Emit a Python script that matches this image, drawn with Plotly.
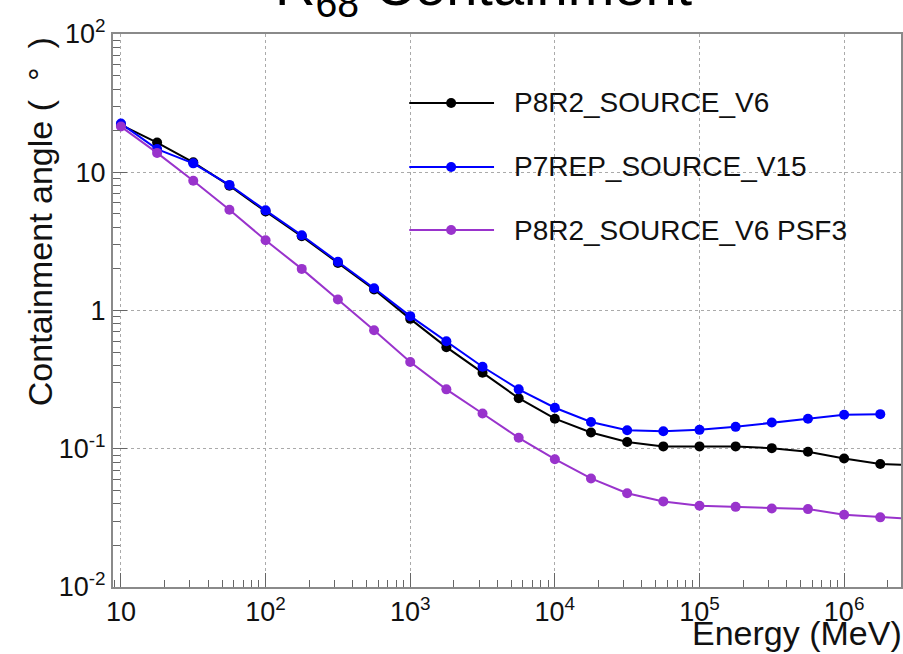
import plotly.graph_objects as go

# ---------------- data ----------------
energy_mev = [10, 17.78, 31.62, 56.23, 100, 177.8, 316.2, 562.3, 1000, 1778, 3162, 5623,
              1.0e4, 1.778e4, 3.162e4, 5.623e4, 1.0e5, 1.778e5, 3.162e5, 5.623e5,
              1.0e6, 1.778e6, 3.162e6]

p8r2_source_v6 = [22.0, 16.4, 11.8, 8.0, 5.2, 3.44, 2.21, 1.42, 0.87, 0.543, 0.355, 0.232,
                  0.165, 0.131, 0.112, 0.104, 0.104, 0.104, 0.101, 0.095, 0.085, 0.0775, 0.076]

p7rep_source_v15 = [22.5, 14.7, 11.6, 8.1, 5.3, 3.5, 2.25, 1.45, 0.91, 0.60, 0.392, 0.269,
                    0.198, 0.156, 0.136, 0.134, 0.137, 0.144, 0.155, 0.165, 0.176, 0.178]

p8r2_source_v6_psf3 = [21.4, 13.8, 8.68, 5.36, 3.22, 2.0, 1.2, 0.72, 0.424, 0.269, 0.180, 0.120,
                       0.084, 0.061, 0.0477, 0.0416, 0.0387, 0.038, 0.037, 0.0366, 0.0333, 0.0319, 0.031]

series_names = ["P8R2_SOURCE_V6", "P7REP_SOURCE_V15", "P8R2_SOURCE_V6 PSF3"]
series_colors = ["#000000", "#0000ff", "#9933cc"]

x_tickvals = [10, 100, 1e3, 1e4, 1e5, 1e6]
x_ticktext = ["10", "10<sup>2</sup>", "10<sup>3</sup>", "10<sup>4</sup>", "10<sup>5</sup>", "10<sup>6</sup>"]
y_tickvals = [0.01, 0.1, 1, 10, 100]
y_ticktext = ["10<sup>-2</sup>", "10<sup>-1</sup>", "1", "10", "10<sup>2</sup>"]

title_text = "R<sub>68</sub> Containment"
x_title = "Energy (MeV)"
y_title = "Containment angle (  \u00b0  )"

# ---------------- layout geometry ----------------
W, H = 903, 654
L, R, T, B = 113, 0, 34, 67
PW, PH = W - L - R, H - T - B
FONT = "Liberation Sans, Arial, Helvetica, sans-serif"


def px_x(px):
    return (px - L) / PW


def px_y(py):
    return (H - B - py) / PH


x_minor = [m * 10 ** e for e in range(0, 7) for m in range(2, 10)]
y_minor = [m * 10.0 ** e for e in range(-2, 2) for m in range(2, 10)]

fig = go.Figure()
all_y = [p8r2_source_v6, p7rep_source_v15, p8r2_source_v6_psf3]
for name, col, ys in zip(series_names, series_colors, all_y):
    fig.add_trace(go.Scatter(
        x=energy_mev[:len(ys)], y=ys, mode="lines+markers", name=name,
        line=dict(color=col, width=2),
        marker=dict(color=col, size=10, symbol="circle"),
        showlegend=False,
    ))

axis_common = dict(
    type="log", showline=True, linecolor="#8a8a8a", linewidth=2, mirror=True,
    ticks="inside", ticklen=14, tickwidth=1, tickcolor="#666666",
    showgrid=True, gridcolor="#aaaaaa", griddash="dot", gridwidth=1,
    zeroline=False,
    tickfont=dict(family=FONT, size=27, color="#111111"),
    minor=dict(ticks="inside", ticklen=7, tickwidth=1, tickcolor="#666666", showgrid=False),
)

fig.update_xaxes(axis_common, range=[0.945, 0.945 + PW / 145.0],
                 tickmode="array", tickvals=x_tickvals, ticktext=x_ticktext)
fig.update_xaxes(minor_tickmode="array", minor_tickvals=x_minor)
fig.update_yaxes(axis_common, range=[-2, 2],
                 tickmode="array", tickvals=y_tickvals, ticktext=y_ticktext)
fig.update_yaxes(minor_tickmode="array", minor_tickvals=y_minor)

annotations = [
    dict(text=title_text, xref="paper", yref="paper", x=px_x(485), y=px_y(-10),
         xanchor="center", yanchor="middle", showarrow=False,
         font=dict(family=FONT, size=56, color="#000000")),
    dict(text=x_title, xref="paper", yref="paper", x=1.0, y=px_y(633), xshift=3,
         xanchor="right", yanchor="middle", showarrow=False,
         font=dict(family=FONT, size=34, color="#111111")),
    dict(text=y_title, xref="paper", yref="paper", x=px_x(40), y=px_y(222),
         xanchor="center", yanchor="middle", textangle=-90, showarrow=False,
         font=dict(family=FONT, size=34, color="#111111")),
]

shapes = []
leg_rows = [103, 167, 230]
for name, col, ry in zip(series_names, series_colors, leg_rows):
    shapes.append(dict(type="line", xref="paper", yref="paper",
                       x0=px_x(410), x1=px_x(495), y0=px_y(ry), y1=px_y(ry),
                       line=dict(color=col, width=2)))
    shapes.append(dict(type="circle", xref="paper", yref="paper",
                       x0=px_x(447), x1=px_x(457), y0=px_y(ry + 5), y1=px_y(ry - 5),
                       fillcolor=col, line=dict(color=col, width=0)))
    annotations.append(dict(text=name, xref="paper", yref="paper",
                            x=px_x(513), y=px_y(ry), xanchor="left", yanchor="middle",
                            showarrow=False,
                            font=dict(family=FONT, size=28, color="#111111")))

fig.update_layout(
    width=W, height=H,
    margin=dict(l=L, r=R, t=T, b=B),
    paper_bgcolor="white", plot_bgcolor="white",
    showlegend=False,
    annotations=annotations, shapes=shapes,
)

fig.write_html("out.html")
